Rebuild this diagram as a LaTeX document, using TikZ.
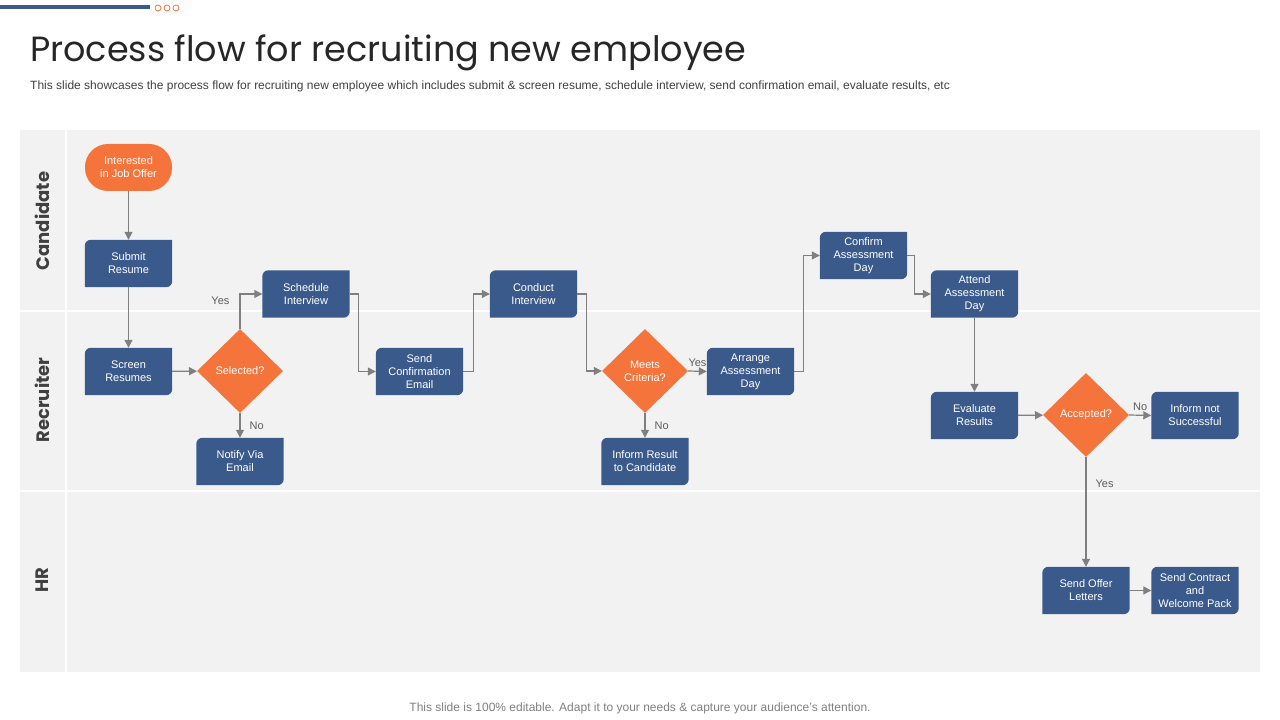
\documentclass[tikz,border=0pt]{standalone}
\usepackage{fontspec}
\setmainfont{Liberation Sans}
\newfontfamily\titlefont{Poppins}
\usetikzlibrary{positioning}
\usetikzlibrary{arrows.meta}
\usetikzlibrary{shapes.geometric}
\usetikzlibrary{backgrounds}

\definecolor{boxblue}{HTML}{3B5A8C}
\definecolor{deciorange}{HTML}{F4743B}
\definecolor{lanegray}{HTML}{F2F2F2}
\definecolor{flowgray}{HTML}{7F7F7F}
\definecolor{textgray}{HTML}{404040}

\begin{document}
\begin{tikzpicture}[
    x=1pt, y=1pt,
    stepbox/.style = {minimum width=87pt, minimum height=47pt, inner sep=0pt, align=center,
      text=white, font=\fontsize{11}{13}\selectfont},
    decision/.style = {diamond, fill=deciorange, minimum width=86pt, minimum height=84pt,
      inner sep=0pt, align=center, text=white, font=\fontsize{11}{13}\selectfont},
    startbox/.style = {fill=deciorange, rounded corners=23pt, minimum width=87pt, minimum height=47pt,
      inner sep=0pt, align=center, text=white, font=\fontsize{11}{13}\selectfont},
    flow/.style = {draw=flowgray, line width=1.2pt, -{Triangle[length=8pt,width=8pt]}},
    answer/.style = {text=textgray!85, font=\fontsize{11}{13}\selectfont, inner sep=1pt},
    lanename/.style = {rotate=90, text=textgray, font=\titlefont\bfseries\fontsize{18}{22}\selectfont},
  ]
  \useasboundingbox (0,0) rectangle (1280,720);

  % header
  \draw[boxblue, line width=3.5pt] (0,713) -- (150,713);
  \foreach \x in {158,167,176}
    \draw[deciorange, line width=0.8pt] (\x,712) circle (3pt);
  \node[anchor=base west, inner sep=0pt, text=black!85, font=\titlefont\fontsize{35}{40}\selectfont] (title) at (30,658) {Process flow for recruiting new employee};
  \node[anchor=base west, inner sep=0pt, text=textgray, font=\fontsize{12}{14}\selectfont] (subtitle) at (30,630) {This slide showcases the process flow for recruiting new employee which includes submit \& screen resume, schedule interview, send confirmation email, evaluate results, etc};

  % lanes
  \node[lanename] (candlane) at (42,499) {Candidate};
  \node[lanename] (recrlane) at (42,320) {Recruiter};
  \node[lanename] (hrlane) at (42,140) {HR};

  % steps
  \node[startbox] (interest) at (128.5,552.5) {Interested\\in Job Offer};
  \node[stepbox] (submit) at (128.5,456.5) {Submit\\Resume};
  \node[stepbox] (screen) at (128.5,348.5) {Screen\\Resumes};
  \node[decision] (selected) at (240,349) {Selected?};
  \node[stepbox] (notify) at (240,258.5) {Notify Via\\Email};
  \node[stepbox] (schedule) at (306,426) {Schedule\\Interview};
  \node[stepbox] (confmail) at (419.5,348.5) {Send\\Confirmation\\Email};
  \node[stepbox] (conduct) at (533.5,426) {Conduct\\Interview};
  \node[decision] (criteria) at (645,349) {Meets\\Criteria?};
  \node[stepbox] (informres) at (645,258.5) {Inform Result\\to Candidate};
  \node[stepbox] (arrange) at (750.5,348.5) {Arrange\\Assessment\\Day};
  \node[stepbox] (confday) at (863.5,464.5) {Confirm\\Assessment\\Day};
  \node[stepbox] (attend) at (974.5,426) {Attend\\Assessment\\Day};
  \node[stepbox] (evaluate) at (974.5,304.5) {Evaluate\\Results};
  \node[decision] (accepted) at (1086,305) {Accepted?};
  \node[stepbox] (informnot) at (1195,304.5) {Inform not\\Successful};
  \node[stepbox] (offer) at (1086,129.5) {Send Offer\\Letters};
  \node[stepbox] (contract) at (1195,129.5) {Send Contract\\and\\Welcome Pack};

  % connectors
  \draw[flow] (interest) -- (submit);
  \draw[flow] (submit) -- (screen);
  \draw[flow] (screen) -- (selected);
  \draw[flow] (selected.north) |- node[answer, pos=0.4, left=9pt] {Yes} (schedule.west);
  \draw[flow] (selected.south) -- node[answer, midway, right=8pt] {No} (notify.north);
  \draw[flow] (schedule.east) -- ++(9,0) |- (confmail.west);
  \draw[flow] (confmail.east) -- ++(10,0) |- (conduct.west);
  \draw[flow] (conduct.east) -- ++(9,0) |- (criteria.west);
  \draw[flow] (criteria.east) -- node[answer, midway, above=3pt] {Yes} (arrange.west);
  \draw[flow] (criteria.south) -- node[answer, midway, right=8pt] {No} (informres.north);
  \draw[flow] (arrange.east) -- ++(9,0) |- (confday.west);
  \draw[flow] (confday.east) -- ++(7,0) |- (attend.west);
  \draw[flow] (attend) -- (evaluate);
  \draw[flow] (evaluate) -- (accepted);
  \draw[flow] (accepted.east) -- node[answer, midway, above=3pt] {No} (informnot.west);
  \draw[flow] (accepted.south) -- node[answer, pos=0.24, right=8pt] {Yes} (offer.north);
  \draw[flow] (offer) -- (contract);

  % footer
  \node[anchor=base, inner sep=0pt, text=flowgray, font=\fontsize{12}{14}\selectfont] (footer) at (640,8) {This slide is 100\% editable. Adapt it to your needs \& capture your audience’s attention.};

  \begin{scope}[on background layer]
    \fill[lanegray] (20,48) rectangle (1260,590);
    \draw[white, line width=1.5pt] (20,409) -- (1260,409) (20,229) -- (1260,229) (66,48) -- (66,590);
    \foreach \n in {submit,screen,notify,schedule,confmail,conduct,informres,arrange,confday,attend,evaluate,informnot,offer,contract}
      \fill[boxblue] (\n.south west) -- ([yshift=-6pt]\n.north west) arc[start angle=180, end angle=90, radius=6pt]
        -- (\n.north east) -- ([yshift=6pt]\n.south east) arc[start angle=0, end angle=-90, radius=6pt] -- cycle;
  \end{scope}
\end{tikzpicture}
\end{document}
